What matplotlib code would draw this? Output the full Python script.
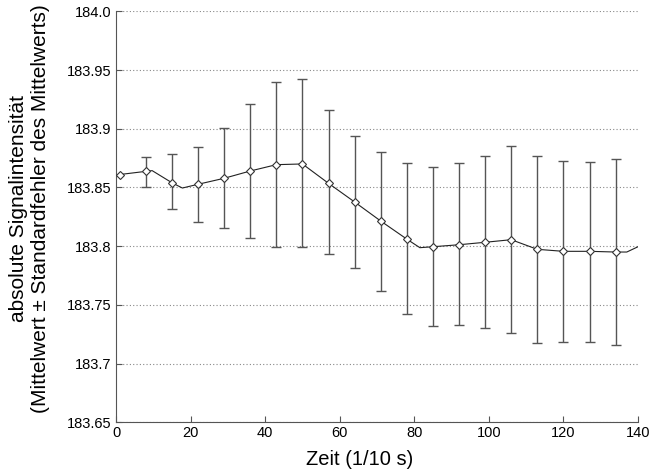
import numpy as np
import matplotlib
matplotlib.use("Agg")
from matplotlib import pyplot as plt

plt.rcParams['font.family'] = ['Liberation Sans', 'DejaVu Sans']

# marker positions (every 7th sample) with mean and error bar ends
xm = [1, 8, 15, 22, 29, 36, 43, 50, 57, 64, 71, 78, 85, 92, 99, 106, 113, 120, 127, 134]
ym = [183.861, 183.8637, 183.854, 183.8527, 183.8578, 183.864, 183.8694, 183.870,
      183.8535, 183.8376, 183.8214, 183.806, 183.7995, 183.8012, 183.8033, 183.8055,
      183.7973, 183.7956, 183.7956, 183.795]
hi = [np.nan, 183.8757, 183.8782, 183.8844, 183.9006, 183.921, 183.940, 183.942,
      183.916, 183.8936, 183.880, 183.871, 183.8677, 183.8706, 183.8765, 183.885,
      183.8765, 183.8725, 183.8714, 183.874]
lo = [np.nan, 183.8506, 183.8314, 183.8206, 183.8155, 183.8072, 183.799, 183.799,
      183.793, 183.7817, 183.7616, 183.742, 183.7318, 183.7326, 183.7306, 183.7263,
      183.7178, 183.7186, 183.7186, 183.7161]

# line vertices
xl = [1, 8, 9.7, 15, 17.8, 22, 29, 36, 43, 50, 57, 64, 71, 78, 81.5, 85, 92, 99, 106,
      113, 120, 127, 134, 137, 140]
yl = [183.861, 183.8637, 183.8643, 183.854, 183.8495, 183.8527, 183.8578, 183.864,
      183.8694, 183.870, 183.8535, 183.8376, 183.8214, 183.806, 183.7987, 183.7995,
      183.8012, 183.8033, 183.8055, 183.7973, 183.7956, 183.7956, 183.795, 183.795,
      183.7995]

yticks = [183.65, 183.7, 183.75, 183.8, 183.85, 183.9, 183.95, 184.0]
ylabels = ['183.65', '183.7', '183.75', '183.8', '183.85', '183.9', '183.95', '184.0']

ym_a = np.array(ym)
yerr = np.array([ym_a - np.array(lo), np.array(hi) - ym_a])

fig = plt.figure(figsize=(6.5, 4.73), dpi=100)
ax = fig.add_axes([0.1785, 0.1072, 0.8030, 0.8689])

ax.errorbar(xm, ym, yerr=yerr, fmt='none', ecolor='#555555', elinewidth=1,
            capsize=3.3, capthick=1, zorder=2)
ax.plot(xl, yl, '-', color='#222222', lw=0.8, zorder=3)
ax.plot(xm, ym, 'D', ms=4.5, mfc='white', mec='#333333', mew=0.8, zorder=4)

ax.set_xlim(0, 140)
ax.set_ylim(183.65, 184.0)
ax.set_xticks(range(0, 141, 20))
ax.set_yticks(yticks)
ax.set_yticklabels(ylabels)
ax.tick_params(direction='in', labelsize=10.5, length=4, color='#555555', pad=3)
ax.yaxis.grid(True, linestyle=(0, (1, 2)), color='#888888', lw=0.8)
ax.set_axisbelow(True)
for s in ['top', 'right']:
    ax.spines[s].set_visible(False)
for s in ['left', 'bottom']:
    ax.spines[s].set_color('#555555')

ax.set_xlabel('Zeit (1/10 s)', fontsize=14.5)
ax.set_ylabel('absolute Signalintensität\n(Mittelwert ± Standardfehler des Mittelwerts)',
              fontsize=15)
ax.xaxis.set_label_coords(0.467, -0.067)
ax.yaxis.set_label_coords(-0.126, 0.521)

fig.savefig('out.png', dpi=100)
